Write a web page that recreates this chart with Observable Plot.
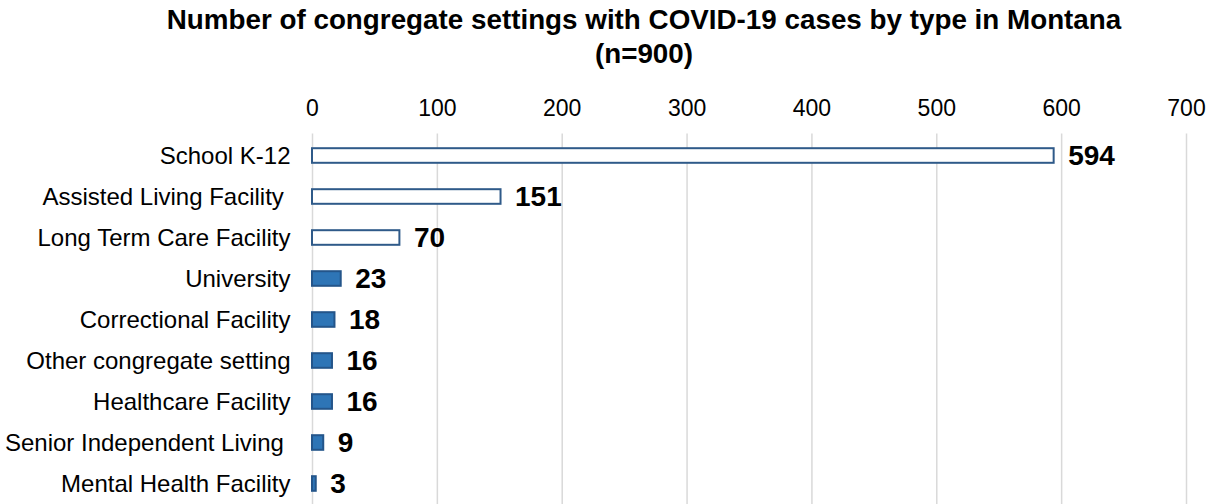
<!DOCTYPE html>
<html>
<head>
<meta charset="utf-8">
<script src="https://cdn.jsdelivr.net/npm/d3@7"></script>
<script src="https://cdn.jsdelivr.net/npm/@observablehq/plot@0.6"></script>
<style>
  html, body { margin: 0; padding: 0; background: #fff; overflow: hidden; }
  #title {
    box-sizing: border-box; width: 1214px; padding: 3px 0 0 74px;
    font: bold 27.8px "Liberation Sans", Arial, sans-serif; line-height: 34px;
    text-align: center; color: #000; height: 74px;
  }
  svg text { white-space: pre; }
</style>
</head>
<body>
<div id="title">Number of congregate settings with COVID-19 cases by type in Montana<br>(n=900)</div>
<div id="chart"></div>
<script>
const categories = [
  "School K-12",
  "Assisted Living Facility ",
  "Long Term Care Facility",
  "University",
  "Correctional Facility",
  "Other congregate setting",
  "Healthcare Facility",
  "Senior Independent Living ",
  "Mental Health Facility"
];
const counts = [594, 151, 70, 23, 18, 16, 16, 9, 3];
const xTicks = [0, 100, 200, 300, 400, 500, 600, 700];

const data = categories.map((c, i) => ({category: c, count: counts[i], idx: i}));

const chart = Plot.plot({
  width: 1214,
  height: 432,
  marginTop: 59.5,
  marginBottom: 0,
  marginLeft: 312,
  marginRight: 28,
  style: {fontFamily: '"Liberation Sans", Arial, sans-serif', color: "#000", background: "#fff"},
  x: {domain: [0, 700], ticks: xTicks},
  y: {domain: categories, padding: 0},
  marks: [
    Plot.gridX(xTicks, {stroke: "#d9d9d9", strokeOpacity: 1, strokeWidth: 1.5}),
    Plot.axisX({anchor: "top", ticks: xTicks, tickSize: 0, tickPadding: 18, fontSize: 23, label: null}),
    Plot.axisY({anchor: "left", tickSize: 0, tickPadding: 22, fontSize: 24, label: null}),
    Plot.barX(data, {
      x: "count", y: "category",
      insetTop: 13.2, insetBottom: 13.2,
      fill: d => d.idx < 3 ? "#ffffff" : "#2E75B6",
      stroke: d => d.idx < 3 ? "#2F5A89" : "#24558A",
      strokeWidth: 2
    }),
    Plot.text(data, {
      x: "count", y: "category", text: d => String(d.count),
      textAnchor: "start", dx: 14, fontSize: 28, fontWeight: "bold", fill: "#000"
    })
  ]
});
document.getElementById("chart").appendChild(chart);
</script>
</body>
</html>
